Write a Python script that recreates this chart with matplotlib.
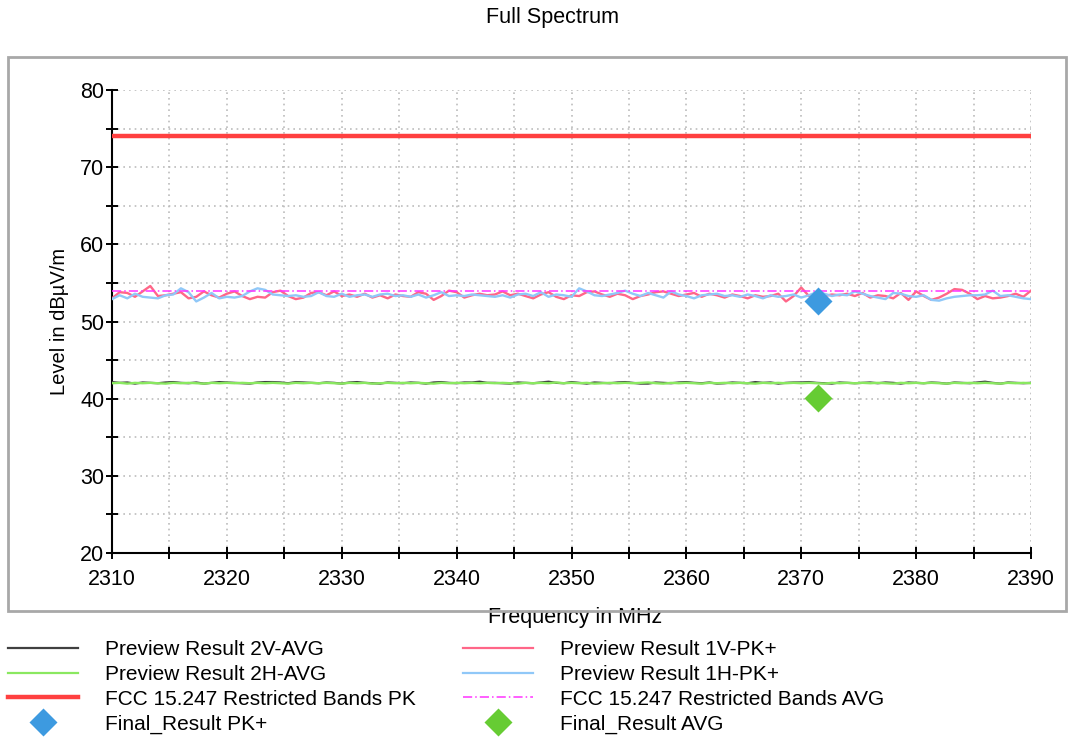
import numpy as np
import matplotlib
matplotlib.use("Agg")
import matplotlib.pyplot as plt
from matplotlib.lines import Line2D
from matplotlib.patches import Rectangle

plt.rcParams['font.family'] = ['Liberation Sans', 'DejaVu Sans']

# ---------------- data ----------------
freq_start, freq_stop = 2310, 2390
n_pts = 121

pk_1v = [
    53.0, 53.8, 53.7, 53.2, 53.9, 54.6, 53.3, 53.4, 53.6, 53.8,
    53.0, 53.2, 53.9, 53.4, 53.1, 53.6, 53.9, 53.3, 52.9, 53.2,
    53.1, 53.8, 54.0, 53.3, 52.9, 53.1, 53.7, 53.8, 53.4, 53.9,
    53.3, 53.5, 53.2, 53.6, 53.1, 53.4, 53.0, 53.5, 53.3, 53.2,
    53.8, 53.6, 52.8, 53.3, 54.0, 53.8, 53.1, 53.4, 53.6, 53.4,
    53.5, 53.9, 53.4, 53.6, 53.3, 53.0, 53.5, 53.8, 53.2, 52.9,
    53.4, 53.3, 53.8, 53.9, 53.5, 53.2, 53.6, 53.4, 52.9, 53.3,
    53.5, 53.8, 53.9, 53.6, 53.3, 53.5, 53.7, 53.2, 53.6, 53.4,
    53.1, 53.5, 53.3, 53.0, 53.4, 53.2, 53.3, 53.6, 52.6, 53.3,
    54.4, 53.3, 53.2, 53.3, 53.5, 53.4, 53.6, 53.3, 53.7, 53.1,
    53.4, 53.3, 53.0, 53.7, 52.8, 53.9, 53.3, 52.8, 53.1, 53.6,
    54.2, 54.1, 53.6, 52.9, 53.3, 53.0, 53.1, 53.3, 53.6, 53.2,
    54.0]

pk_1h = [
    52.9, 53.4, 53.0, 53.6, 53.2, 53.1, 53.0, 53.4, 53.5, 54.3,
    53.8, 52.6, 53.1, 53.7, 53.0, 53.2, 53.1, 53.3, 53.9, 54.3,
    54.1, 53.5, 53.4, 53.3, 53.4, 53.2, 53.3, 53.8, 53.3, 53.2,
    53.6, 53.2, 53.4, 53.5, 53.2, 53.5, 53.6, 53.3, 53.4, 53.2,
    53.5, 53.1, 53.4, 53.8, 53.3, 53.4, 53.3, 53.5, 53.4, 53.3,
    53.2, 53.4, 53.1, 53.5, 53.6, 53.3, 53.8, 53.2, 53.5, 53.4,
    53.2, 54.3, 53.9, 53.4, 53.3, 53.5, 53.7, 54.0, 53.6, 53.3,
    53.7, 53.4, 53.1, 53.9, 53.5, 53.3, 53.0, 53.4, 53.5, 53.6,
    53.3, 53.4, 53.2, 53.5, 53.3, 53.0, 53.4, 53.2, 53.3, 53.5,
    53.1, 53.4, 53.8, 53.6, 53.3, 53.5, 53.4, 53.9, 53.6, 53.3,
    53.1, 52.9, 53.7, 53.6, 53.3, 53.2, 53.4, 52.8, 52.7, 53.0,
    53.2, 53.3, 53.4, 53.4, 53.5, 54.0, 53.3, 53.4, 53.2, 53.0,
    52.9]

avg_2v = [
    42.15, 42.05, 42.10, 41.95, 42.10, 42.05, 42.00, 42.10, 42.15, 42.05,
    42.00, 42.10, 41.95, 42.05, 42.15, 42.10, 42.05, 42.00, 41.95, 42.10,
    42.15, 42.15, 42.10, 42.00, 42.15, 42.10, 42.05, 42.00, 42.10, 42.05,
    41.95, 42.10, 42.15, 42.05, 42.00, 41.95, 42.10, 42.05, 42.00, 42.10,
    42.05, 41.95, 42.10, 42.15, 42.05, 42.00, 42.10, 42.10, 42.20, 42.05,
    42.05, 42.00, 41.95, 42.10, 42.05, 42.00, 42.10, 42.20, 42.05, 42.00,
    42.15, 42.05, 41.95, 42.10, 42.05, 42.00, 42.10, 42.15, 42.05, 41.95,
    41.95, 42.10, 42.05, 42.00, 42.10, 42.15, 42.05, 42.00, 42.10, 41.95,
    42.00, 42.10, 42.05, 42.00, 42.15, 42.05, 42.10, 41.95, 42.05, 42.10,
    42.10, 42.15, 42.05, 42.00, 41.95, 42.10, 42.05, 42.00, 42.05, 42.10,
    42.00, 42.10, 42.05, 41.95, 42.10, 42.05, 42.00, 42.10, 42.05, 41.95,
    42.10, 42.05, 42.00, 42.10, 42.20, 42.05, 41.95, 42.10, 42.05, 42.00,
    42.05]

avg_2h = [
    42.00, 42.05, 41.95, 42.05, 42.00, 42.05, 42.00, 41.95, 42.05, 42.00,
    42.05, 42.00, 41.95, 42.05, 42.00, 42.05, 42.00, 42.05, 42.00, 42.05,
    42.00, 42.05, 42.00, 41.95, 42.05, 42.00, 42.05, 42.00, 42.05, 42.00,
    41.95, 42.05, 42.00, 42.05, 41.95, 42.00, 42.05, 42.00, 42.05, 42.00,
    42.05, 42.00, 41.95, 42.05, 42.00, 42.05, 42.00, 42.05, 42.00, 42.05,
    42.00, 42.05, 42.00, 41.95, 42.05, 42.00, 42.05, 42.00, 42.10, 42.00,
    42.05, 42.00, 42.05, 41.95, 42.00, 42.05, 42.00, 42.05, 42.00, 42.05,
    42.10, 42.00, 41.95, 42.05, 42.00, 42.05, 42.00, 41.95, 42.05, 42.00,
    42.05, 42.00, 42.05, 42.00, 41.95, 42.05, 42.00, 42.05, 42.00, 42.05,
    42.00, 42.05, 42.00, 41.95, 42.05, 42.00, 42.05, 42.00, 42.05, 42.00,
    42.05, 42.00, 41.95, 42.05, 42.00, 42.05, 42.00, 42.05, 42.00, 41.95,
    42.05, 42.00, 42.05, 42.00, 42.05, 42.00, 41.95, 42.05, 42.00, 42.05,
    42.00]

limit_pk = 74.0
limit_avg = 54.0

final_pk_freq = [2371.5]
final_pk_level = [52.7]
final_avg_freq = [2371.5]
final_avg_level = [40.1]

x_major = [2310, 2320, 2330, 2340, 2350, 2360, 2370, 2380, 2390]
y_major = [20, 30, 40, 50, 60, 70, 80]

labels = ["Preview Result 2V-AVG", "Preview Result 2H-AVG",
          "FCC 15.247 Restricted Bands PK", "Final_Result PK+",
          "Preview Result 1V-PK+", "Preview Result 1H-PK+",
          "FCC 15.247 Restricted Bands AVG", "Final_Result AVG"]

# ---------------- figure ----------------
W, H = 1069, 738
fig = plt.figure(figsize=(W / 100, H / 100), dpi=100)
fig.patch.set_facecolor('white')

# outer frame (drawn above the x-axis title, which it partly covers)
frame = Rectangle((8 / W, 1 - 611 / H), (1066 - 8) / W, (611 - 57) / H,
                  transform=fig.transFigure, fill=False,
                  edgecolor='#a8a8a8', linewidth=2.0, zorder=10)
fig.add_artist(frame)

ax = fig.add_axes([112 / W, 1 - 553 / H, (1031 - 112) / W, (553 - 90) / H])
freq = np.linspace(freq_start, freq_stop, n_pts)

ax.plot(freq, avg_2v, color='#404040', lw=1.6, zorder=3)
ax.plot(freq, avg_2h, color='#8ae860', lw=1.7, zorder=3)
ax.plot(freq, pk_1v, color='#ff6688', lw=1.7, zorder=3)
ax.plot(freq, pk_1h, color='#90c8f8', lw=1.7, zorder=3)
ax.plot([freq_start, freq_stop], [limit_pk, limit_pk], color='#ff4040', lw=3.2, zorder=4)
ax.plot([freq_start, freq_stop], [limit_avg, limit_avg], color='#ff33ff', lw=1.1,
        dashes=(6, 2, 1, 2), zorder=4)
ax.plot(final_pk_freq, final_pk_level, 'D', color='#3d9ae0', ms=14, mec='none', zorder=5)
ax.plot(final_avg_freq, final_avg_level, 'D', color='#66cc33', ms=14, mec='none', zorder=5)

ax.set_xlim(freq_start, freq_stop)
ax.set_ylim(20, 80)
ax.set_xticks(x_major)
ax.set_yticks(y_major)
ax.set_xticks(np.arange(2315, 2390, 10), minor=True)
ax.set_yticks(np.arange(25, 80, 10), minor=True)
for s in ['top', 'right']:
    ax.spines[s].set_visible(False)
for s in ['left', 'bottom']:
    ax.spines[s].set_linewidth(1.5)
ax.tick_params(which='both', direction='inout', length=9, width=1.4, labelsize=15.5)
ax.tick_params(axis='y', which='major', pad=1)
ax.tick_params(axis='x', which='major', pad=7)
ax.grid(True, which='both', color='#bcbcbc', linestyle=(0, (1.0, 2.4)), linewidth=1.2)
ax.set_axisbelow(True)
ax.set_ylabel("Level in dBµV/m", fontsize=14.5, labelpad=0)
ax.yaxis.set_label_coords(-0.047, 0.50)

fig.text(552 / W, 1 - 18 / H, "Full Spectrum", ha='center', va='center', fontsize=15.5)
fig.text(575 / W, 1 - 617 / H, "Frequency in MHz", ha='center', va='center',
         fontsize=15.5, zorder=1)

# ---------------- legend ----------------
h = [Line2D([], [], color='#404040', lw=1.6),
     Line2D([], [], color='#8ae860', lw=1.6),
     Line2D([], [], color='#ff4040', lw=3.2),
     Line2D([], [], ls='none', marker='D', color='#3d9ae0', ms=14, mec='none'),
     Line2D([], [], color='#ff6688', lw=1.6),
     Line2D([], [], color='#90c8f8', lw=1.6),
     Line2D([], [], color='#ff33ff', lw=1.1, dashes=(6, 2, 1, 2)),
     Line2D([], [], ls='none', marker='D', color='#66cc33', ms=14, mec='none')]

common = dict(frameon=False, fontsize=15, handlelength=3.37, handletextpad=1.3,
              labelspacing=0.28, borderpad=0, borderaxespad=0, loc='upper left')
leg1 = fig.legend(h[:4], labels[:4], bbox_to_anchor=(8 / W, 1 - 640 / H), **common)
leg2 = fig.legend(h[4:], labels[4:], bbox_to_anchor=(463 / W, 1 - 640 / H), **common)

fig.savefig("out.png", dpi=100)
